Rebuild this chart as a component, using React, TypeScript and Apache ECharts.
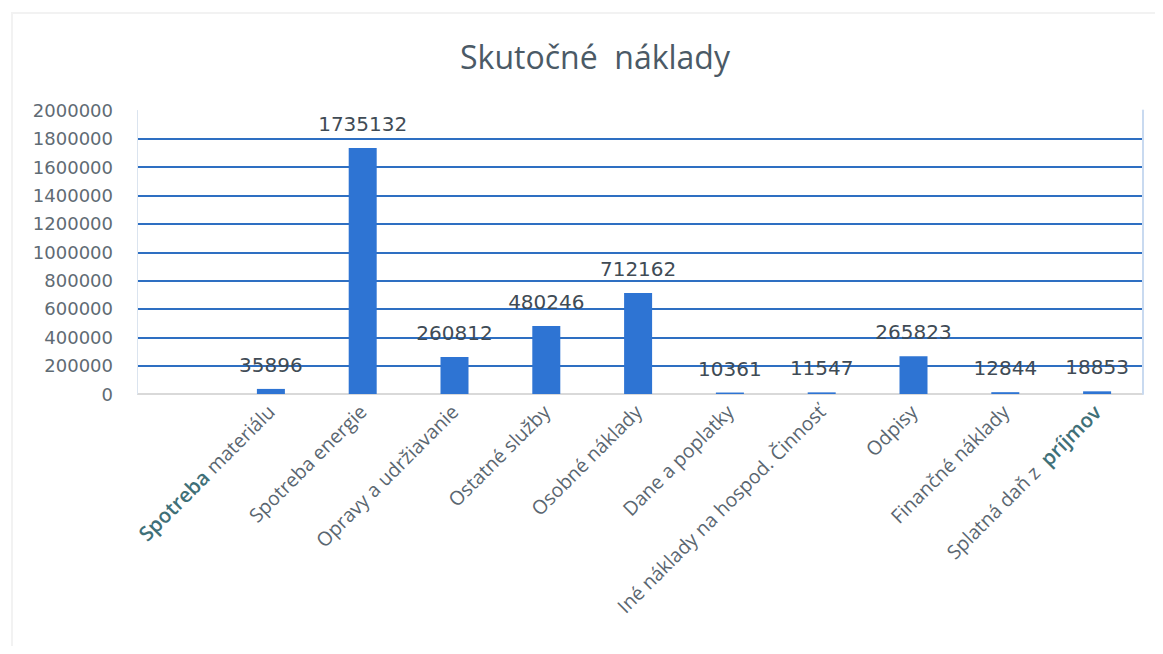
import React, { useEffect, useRef } from "react";
import * as echarts from "echarts";

const categories = [
  "Spotreba materiálu",
  "Spotreba energie",
  "Opravy a udržiavanie",
  "Ostatné služby",
  "Osobné náklady",
  "Dane a poplatky",
  "Iné náklady na hospod. Činnosť",
  "Odpisy",
  "Finančné náklady",
  "Splatná daň z  príjmov",
];
const values = [35896, 1735132, 260812, 480246, 712162, 10361, 11547, 265823, 12844, 18853];
const yMin = 0;
const yMax = 2000000;
const yInterval = 200000;
const highlighted: Record<number, string> = { 0: "Spotreba", 9: "príjmov" };

export default function App() {
  const ref = useRef<HTMLDivElement>(null);
  useEffect(() => {
    if (!ref.current) return;
    const chart = echarts.init(ref.current, undefined, { renderer: "svg" });
    const gridColors = [
      "#d9d9d9",
      "#2e6fc2",
      "#2e6fc2",
      "#2e6fc2",
      "#2e6fc2",
      "#2e6fc2",
      "#2e6fc2",
      "#2e6fc2",
      "#2e6fc2",
      "#2e6fc2",
      "rgba(0,0,0,0)",
    ];
    chart.setOption({
      animation: false,
      backgroundColor: "#ffffff",
      title: {
        text: "Skutočné  náklady",
        left: 582,
        top: 27,
        textAlign: "center",
        textStyle: {
          fontFamily: "Open Sans",
          fontSize: 32,
          fontWeight: "normal",
          color: "#4b5a66",
        },
      },
      graphic: [
        {
          type: "rect",
          shape: { x: 4, y: 5, width: 1160, height: 645 },
          style: { fill: "none", stroke: "#f2f2f2", lineWidth: 2 },
          silent: true,
        },
      ],
      grid: [
        { left: 129, right: 12, top: 102.5, height: 283.5 },
        { left: 217, right: 12, top: 102.5, height: 283.5 },
      ],
      xAxis: [
        { type: "value", gridIndex: 0, min: 0, max: 1, show: false },
        {
          type: "category",
          gridIndex: 1,
          data: categories,
          axisTick: { show: false },
          axisLine: { show: false },
          axisLabel: {
            rotate: 45,
            interval: 0,
            margin: 14,
            fontFamily: "Open Sans",
            fontSize: 19.5,
            color: "#5a6670",
            formatter: (v: string, idx: number) => {
              const w = highlighted[idx];
              return w ? v.replace(w, "{h|" + w + "}") : v;
            },
            rich: {
              h: {
                fontFamily: "Open Sans",
                fontSize: 20.5,
                fontWeight: 600,
                color: "#3f7078",
              },
            },
          },
        },
      ],
      yAxis: [
        {
          type: "value",
          gridIndex: 0,
          min: yMin,
          max: yMax,
          interval: yInterval,
          axisTick: { show: false },
          axisLine: { show: true, lineStyle: { color: "#dbe4ef", width: 1 } },
          axisLabel: {
            margin: 24,
            fontFamily: "DejaVu Sans",
            fontSize: 18,
            color: "#5f6b74",
            formatter: (v: number) => String(v),
          },
          splitLine: { show: true, lineStyle: { color: gridColors, width: 2 } },
        },
        {
          type: "value",
          gridIndex: 0,
          position: "right",
          min: yMin,
          max: yMax,
          interval: yInterval,
          axisTick: { show: false },
          axisLabel: { show: false },
          splitLine: { show: false },
          axisLine: { show: true, lineStyle: { color: "#c9daf0", width: 2 } },
        },
        {
          type: "value",
          gridIndex: 1,
          min: yMin,
          max: yMax,
          interval: yInterval,
          show: false,
          splitLine: { show: false },
        },
      ],
      series: [
        {
          type: "bar",
          xAxisIndex: 1,
          yAxisIndex: 2,
          data: values,
          barWidth: 28,
          itemStyle: { color: "#2e74d3" },
          label: {
            show: true,
            position: "top",
            distance: 14,
            fontFamily: "DejaVu Sans",
            fontSize: 20,
            color: "#404b55",
          },
        },
      ],
    });
    return () => chart.dispose();
  }, []);
  return <div ref={ref} style={{ width: 1147, height: 638 }} />;
}
